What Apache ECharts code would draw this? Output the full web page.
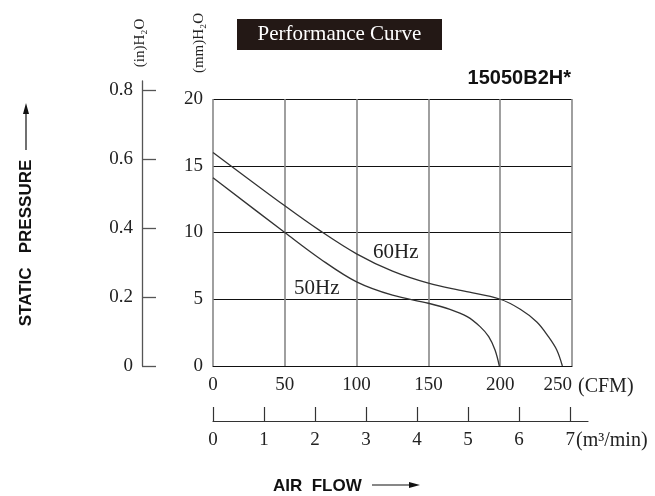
<!DOCTYPE html>
<html>
<head>
<meta charset="utf-8">
<script src="https://cdn.jsdelivr.net/npm/echarts@6/dist/echarts.min.js"></script>
<style>
html,body{margin:0;padding:0;background:#fff;}
#chart{width:655px;height:496px;}
</style>
</head>
<body>
<div id="chart"></div>
<script>
// ---- data ----
var flow60 = [0, 50, 75, 100, 125, 150, 175, 200, 214, 225.5, 233.6, 239.4, 243.3];
var press60 = [16.0, 12.0, 10.1, 8.4, 7.1, 6.2, 5.6, 5.0, 4.25, 3.3, 2.2, 1.2, 0];
var flow50 = [0, 50, 75, 100, 125, 150, 165, 177, 186, 192, 196.4, 199.4];
var press50 = [14.1, 10.0, 8.0, 6.3, 5.3, 4.7, 4.25, 3.7, 2.95, 2.2, 1.2, 0];
var cfmTicks = [0, 50, 100, 150, 200, 250];
var mmTicks = [0, 5, 10, 15, 20];
var inchTicks = [0, 0.2, 0.4, 0.6, 0.8];
var cmmTicks = [0, 1, 2, 3, 4, 5, 6, 7];

function pairs(xs, ys) { return xs.map(function (x, i) { return [x, ys[i]]; }); }

var serif = '"Liberation Serif", "DejaVu Serif", serif';
var sans = '"Liberation Sans", Arial, sans-serif';

var chart = echarts.init(document.getElementById('chart'));
chart.setOption({
  animation: false,
  backgroundColor: '#fff',
  grid: [
    { left: 213, right: 83, top: 99, bottom: 130 },
    { left: 213, width: 375, top: 420, height: 1 },
    { left: 142, width: 1, top: 81, bottom: 130 }
  ],
  xAxis: [
    {
      gridIndex: 0, type: 'value', min: 0, max: 250, interval: 50,
      axisLine: { show: true, lineStyle: { color: '#111', width: 1.2 } },
      axisTick: { show: false },
      axisLabel: { color: '#222', fontFamily: serif, fontSize: 19, margin: 10,
        customValues: cfmTicks, alignMaxLabel: 'right' },
      splitLine: { show: true, lineStyle: { color: '#888', width: 1.6 } }
    },
    {
      gridIndex: 1, type: 'value', min: 0, max: 7.35, position: 'bottom',
      axisLine: { show: true, onZero: false, lineStyle: { color: '#333', width: 1.2 } },
      axisTick: { show: true, inside: true, length: 14, lineStyle: { color: '#333', width: 1.2 },
        customValues: cmmTicks },
      axisLabel: { color: '#222', fontFamily: serif, fontSize: 19, margin: 10,
        customValues: cmmTicks },
      splitLine: { show: false }
    },
    { gridIndex: 2, type: 'value', show: false, min: 0, max: 1 }
  ],
  yAxis: [
    {
      gridIndex: 0, type: 'value', min: 0, max: 20, interval: 5,
      axisLine: { show: false },
      axisTick: { show: false },
      axisLabel: { color: '#222', fontFamily: serif, fontSize: 19, margin: 10,
        customValues: mmTicks },
      splitLine: { show: true, lineStyle: { color: '#111', width: 1.1 } }
    },
    { gridIndex: 1, type: 'value', show: false, min: 0, max: 1 },
    {
      gridIndex: 2, type: 'value', min: 0, max: 0.826, position: 'left',
      axisLine: { show: true, onZero: false, lineStyle: { color: '#555', width: 1.3 } },
      axisTick: { show: true, inside: true, length: 14, lineStyle: { color: '#555', width: 1.3 },
        customValues: inchTicks },
      axisLabel: { color: '#222', fontFamily: serif, fontSize: 19, margin: 9,
        customValues: inchTicks,
        formatter: function (v) { return v === 0 ? '0' : v.toFixed(1); } },
      splitLine: { show: false }
    }
  ],
  series: [
    {
      name: '60Hz', type: 'line', xAxisIndex: 0, yAxisIndex: 0,
      data: pairs(flow60, press60), smooth: 0.35,
      showSymbol: false, lineStyle: { color: '#333', width: 1.3 }
    },
    {
      name: '50Hz', type: 'line', xAxisIndex: 0, yAxisIndex: 0,
      data: pairs(flow50, press50), smooth: 0.35,
      showSymbol: false, lineStyle: { color: '#333', width: 1.3 }
    }
  ],
  graphic: [
    { type: 'rect', shape: { x: 237, y: 19, width: 205, height: 31 }, style: { fill: '#231815' } },
    { type: 'text', x: 339.5, y: 34.5, style: { text: 'Performance Curve', fill: '#fff',
      font: '21px ' + serif, textAlign: 'center', textVerticalAlign: 'middle' } },
    { type: 'text', x: 571, y: 78, style: { text: '15050B2H*', fill: '#111',
      font: 'bold 20px ' + sans, textAlign: 'right', textVerticalAlign: 'middle' } },
    { type: 'text', x: 140, y: 43, rotation: Math.PI / 2, style: { text: '(in)H\u2082O', fill: '#222',
      font: '15px ' + serif, textAlign: 'center', textVerticalAlign: 'middle' } },
    { type: 'text', x: 199, y: 43, rotation: Math.PI / 2, style: { text: '(mm)H\u2082O', fill: '#222',
      font: '15px ' + serif, textAlign: 'center', textVerticalAlign: 'middle' } },
    { type: 'text', x: 373, y: 252, style: { text: '60Hz', fill: '#222',
      font: '21px ' + serif, textAlign: 'left', textVerticalAlign: 'middle' } },
    { type: 'text', x: 294, y: 288, style: { text: '50Hz', fill: '#222',
      font: '21px ' + serif, textAlign: 'left', textVerticalAlign: 'middle' } },
    { type: 'text', x: 578, y: 387, style: { text: '(CFM)', fill: '#222',
      font: '20px ' + serif, textAlign: 'left', textVerticalAlign: 'middle' } },
    { type: 'text', x: 576, y: 441, style: { text: '(m\u00b3/min)', fill: '#222',
      font: '20px ' + serif, textAlign: 'left', textVerticalAlign: 'middle' } },
    { type: 'text', x: 26, y: 243, rotation: Math.PI / 2, style: { text: 'STATIC   PRESSURE', fill: '#111',
      font: 'bold 17px ' + sans, textAlign: 'center', textVerticalAlign: 'middle' } },
    { type: 'line', shape: { x1: 26, y1: 150, x2: 26, y2: 112 }, style: { stroke: '#111', lineWidth: 1.2 } },
    { type: 'polygon', shape: { points: [[26, 103], [23, 114], [29, 114]] }, style: { fill: '#111' } },
    { type: 'text', x: 273, y: 486, style: { text: 'AIR  FLOW', fill: '#111',
      font: 'bold 17px ' + sans, textAlign: 'left', textVerticalAlign: 'middle' } },
    { type: 'line', shape: { x1: 372, y1: 485, x2: 410, y2: 485 }, style: { stroke: '#111', lineWidth: 1.2 } },
    { type: 'polygon', shape: { points: [[420, 485], [409, 482], [409, 488]] }, style: { fill: '#111' } }
  ]
});
</script>
</body>
</html>
